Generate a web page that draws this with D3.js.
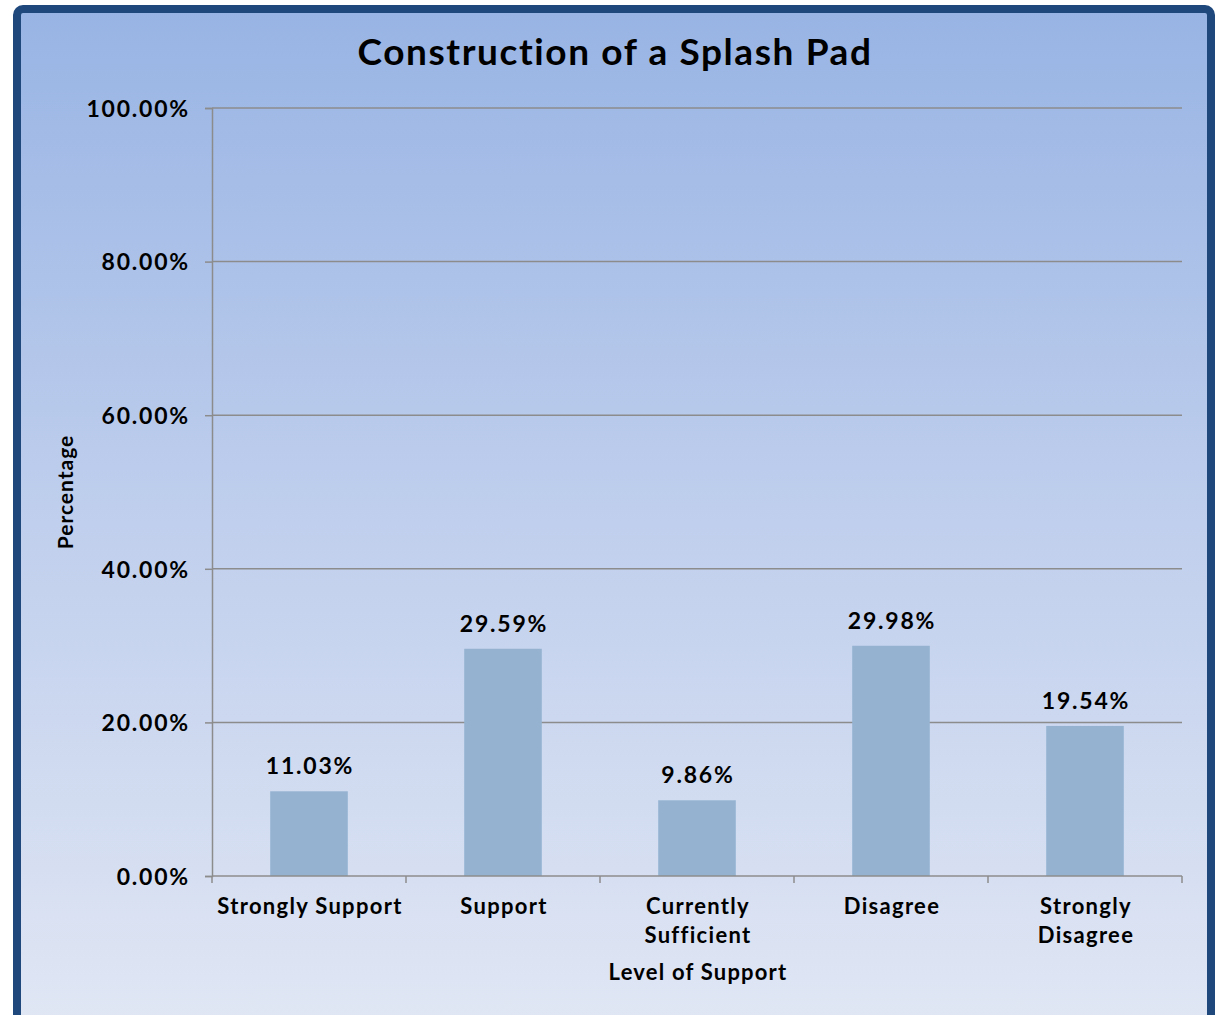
<!DOCTYPE html>
<html>
<head>
<meta charset="utf-8">
<script src="https://cdn.jsdelivr.net/npm/d3@7"></script>
<style>
  body { margin: 0; background: #ffffff; }
  text { font-family: "Lato", "DejaVu Sans", sans-serif; font-weight: bold; fill: #000; }
</style>
</head>
<body>
<div id="viz-container"></div>
<script>
// chart data
let categories = [["Strongly Support"], ["Support"], ["Currently", "Sufficient"], ["Disagree"], ["Strongly", "Disagree"]];
let values = [11.03, 29.59, 9.86, 29.98, 19.54];
let yTicks = [0, 20, 40, 60, 80, 100];

let W = 1218, H = 1015;
let margin = {left: 212, right: 36, top: 108, bottom: 139};

let viz = d3.select("#viz-container")
    .append("svg")
    .attr("width", W)
    .attr("height", H)
;

// background gradient
let defs = viz.append("defs");
let grad = defs.append("linearGradient")
    .attr("id", "bg")
    .attr("x1", 0).attr("y1", 0).attr("x2", 0).attr("y2", 1);
grad.append("stop").attr("offset", "0%").attr("stop-color", "#98b4e4");
grad.append("stop").attr("offset", "50%").attr("stop-color", "#c0cfed");
grad.append("stop").attr("offset", "100%").attr("stop-color", "#e1e7f4");

// outer frame (border), bottom edge runs off the picture
viz.append("rect")
    .attr("x", 17).attr("y", 9)
    .attr("width", 1194).attr("height", 1030)
    .attr("rx", 6)
    .attr("fill", "url(#bg)")
    .attr("stroke", "#1f497d")
    .attr("stroke-width", 8)
;

let x = d3.scaleBand()
    .domain(d3.range(categories.length))
    .range([margin.left, W - margin.right])
    .paddingInner(0.6)
    .paddingOuter(0.3)
;
let xEdge = d3.scaleLinear()
    .domain([0, categories.length])
    .range([margin.left, W - margin.right]);

let y = d3.scaleLinear()
    .domain([0, 100])
    .range([H - margin.bottom, margin.top]);

// gridlines
viz.append("g")
    .selectAll("line")
    .data(yTicks.slice(1))
    .enter()
    .append("line")
    .attr("x1", margin.left)
    .attr("x2", W - margin.right)
    .attr("y1", d => y(d))
    .attr("y2", d => y(d))
    .attr("stroke", "#8c8c8c")
    .attr("stroke-width", 1.5)
;

// y axis
let yAxis = viz.append("g")
    .attr("transform", "translate(" + margin.left + ",0)")
    .call(d3.axisLeft(y).tickValues(yTicks).tickSize(7).tickPadding(15)
        .tickFormat(d => d.toFixed(2) + "%"));
yAxis.select(".domain").attr("stroke", "#8c8c8c").attr("stroke-width", 1.5);
yAxis.selectAll(".tick line").attr("stroke", "#8c8c8c").attr("stroke-width", 1.5);
yAxis.selectAll(".tick text").style("font-size", "23px").style("letter-spacing", "1.8px").attr("dy", "0.36em");

// bars
viz.append("g")
    .selectAll("rect")
    .data(values)
    .enter()
    .append("rect")
    .attr("x", (d, i) => x(i))
    .attr("y", d => y(d))
    .attr("width", x.bandwidth())
    .attr("height", d => y(0) - y(d))
    .attr("fill", "#95b3d1")
;

// data labels
viz.append("g")
    .selectAll("text")
    .data(values)
    .enter()
    .append("text")
    .attr("x", (d, i) => x(i) + x.bandwidth() / 2 + 1)
    .attr("y", d => y(d) - 17)
    .attr("text-anchor", "middle")
    .style("font-size", "23px")
    .style("letter-spacing", "1.8px")
    .text(d => d.toFixed(2) + "%")
;

// x axis line + ticks
viz.append("line")
    .attr("x1", margin.left).attr("x2", W - margin.right)
    .attr("y1", y(0)).attr("y2", y(0))
    .attr("stroke", "#8c8c8c").attr("stroke-width", 1.5);
viz.append("g")
    .selectAll("line")
    .data(d3.range(categories.length + 1))
    .enter()
    .append("line")
    .attr("x1", d => xEdge(d)).attr("x2", d => xEdge(d))
    .attr("y1", y(0)).attr("y2", y(0) + 7)
    .attr("stroke", "#8c8c8c").attr("stroke-width", 1.5)
;

// category labels
let catLabels = viz.append("g")
    .selectAll("text")
    .data(categories)
    .enter()
    .append("text")
    .attr("x", (d, i) => x(i) + x.bandwidth() / 2 + 1)
    .attr("y", 914)
    .attr("text-anchor", "middle")
    .style("font-size", "22px")
    .style("letter-spacing", "1.3px")
;
catLabels.selectAll("tspan")
    .data(d => d)
    .enter()
    .append("tspan")
    .attr("x", function() { return d3.select(this.parentNode).attr("x"); })
    .attr("dy", (d, i) => i === 0 ? 0 : 29)
    .text(d => d)
;

// title
viz.append("text")
    .attr("x", 615)
    .attr("y", 65)
    .attr("text-anchor", "middle")
    .style("font-size", "37px")
    .style("letter-spacing", "1.6px")
    .text("Construction of a Splash Pad")
;

// axis titles
viz.append("text")
    .attr("x", 698)
    .attr("y", 980)
    .attr("text-anchor", "middle")
    .style("font-size", "22px")
    .style("letter-spacing", "1.2px")
    .text("Level of Support")
;
viz.append("text")
    .attr("transform", "translate(73," + y(50) + ") rotate(-90)")
    .attr("text-anchor", "middle")
    .style("font-size", "21px")
    .style("letter-spacing", "1px")
    .text("Percentage")
;
</script>
</body>
</html>
